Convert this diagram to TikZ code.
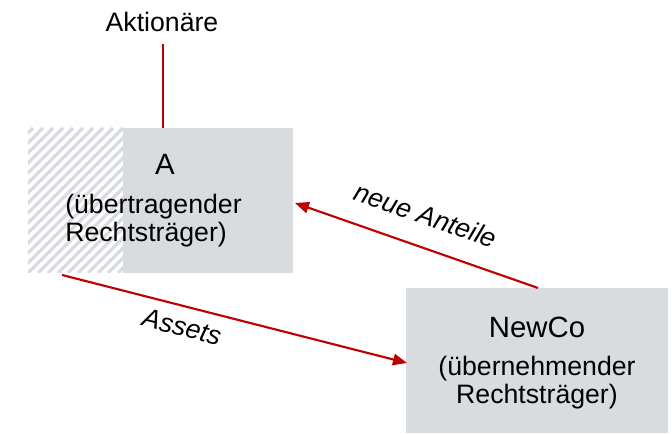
\documentclass[tikz,border=0pt]{standalone}
\usepackage{fontspec}
\setmainfont{Liberation Sans}
\usetikzlibrary{arrows.meta}
\definecolor{boxgray}{HTML}{D9DCDF}
\definecolor{hatchgray}{HTML}{D9DCDF}
\definecolor{darkred}{HTML}{C00000}
\tikzset{
  entity/.style={fill=boxgray, draw=none, inner sep=0pt},
  conn/.style={draw=darkred, line width=1.6pt, -{Triangle[length=10.5pt,width=8.5pt]}},
  plainline/.style={draw=darkred, line width=1.4pt},
  bigtxt/.style={font=\fontsize{22}{24}\selectfont, inner sep=0pt},
  txt/.style={font=\fontsize{20}{21}\selectfont, inner sep=0pt},
  lbl/.style={font=\fontsize{20}{22}\selectfont\itshape, inner sep=0pt}
}
\begin{document}
\begin{tikzpicture}[x=0.75pt,y=-0.75pt]
\useasboundingbox (0,0) rectangle (672,434);
% hatched part
\begin{scope}
  \clip (28,128) rectangle (123,273);
  \foreach \i in {-160,-150,...,140} {
    \draw[hatchgray, line width=2.6pt] (28+\i,273) -- (28+\i+145,128);
  }
\end{scope}
% boxes
\node[entity, minimum width=127.5pt, minimum height=108.75pt] (abox) at (208,200.5) {};
\node[entity, minimum width=196.5pt, minimum height=108.75pt] (newco) at (537,360.5) {};
% texts
\node[txt, anchor=base] (aktionaere) at (162,32) {Aktionäre};
\node[bigtxt, anchor=base] (atitle) at (165,175) {A};
\node[txt, anchor=base west, align=left] (asub) at (65,242) {(übertragender\\Rechtsträger)};
\node[bigtxt, anchor=base] (ntitle) at (537,338) {NewCo};
\node[txt, anchor=base, align=center] (nsub) at (537,404) {(übernehmender\\Rechtsträger)};
% connectors
\coordinate (aktend) at (163,44);
\draw[plainline] (aktend) -- (abox.north -| aktend);
\coordinate (nstart) at (538,288);
\coordinate (aend) at (295,203);
\draw[conn] (nstart) -- (aend);
\coordinate (astart) at (62,275);
\coordinate (nend) at (407,363);
\draw[conn] (astart) -- (nend);
% labels
\node[lbl, rotate=-19.5] (lneue) at (426,215) {neue Anteile};
\node[lbl, rotate=-14.3] (lassets) at (182,327) {Assets};
\end{tikzpicture}
\end{document}
